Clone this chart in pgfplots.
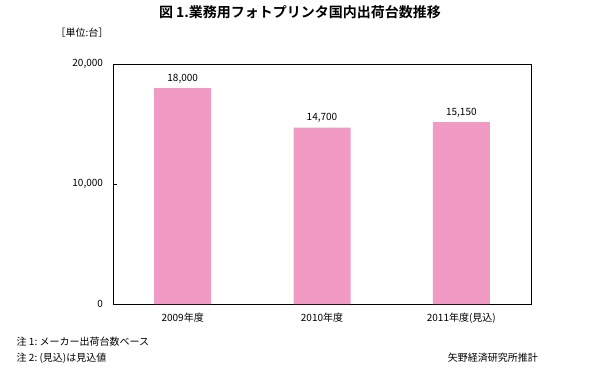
\documentclass[border=0pt]{standalone}
\usepackage{fontspec}
\setmainfont{Noto Sans CJK JP}
\newfontfamily\cjkbold{Noto Sans CJK JP}[BoldFont={Noto Sans CJK JP Bold}]
\usepackage{pgfplots}
\pgfplotsset{compat=1.18}
\definecolor{barpink}{HTML}{F19AC4}
\begin{document}
\begin{tikzpicture}
\useasboundingbox (0,0) rectangle (450pt,284.25pt);
\begin{axis}[
  at={(84.75pt,56.25pt)}, anchor=south west,
  scale only axis, width=313.5pt, height=180pt,
  xmin=-0.5, xmax=2.5, ymin=0, ymax=20000,
  xtick={0,1,2}, xticklabels={2009年度,2010年度,2011年度(見込)},
  ytick={0,10000,20000},
  major x tick style={draw=none},
  y tick style={black, line width=0.4pt}, major tick length=3pt,
  tick align=inside, ytick pos=left,
  axis line style={black, line width=0.6pt},
  /pgf/number format/assume math mode=true,
  /pgf/number format/1000 sep={,},
  scaled y ticks=false,
  tick label style={font=\fontsize{7.5}{9}\selectfont},
  yticklabel style={xshift=-4pt},
  xticklabel style={yshift=-3pt},
  nodes near coords,
  every node near coord/.append style={font=\fontsize{7.5}{9}\selectfont, /pgf/number format/1000 sep={,}},
]
\addplot[ybar, bar width=42.75pt, fill=barpink, draw=none] coordinates {(0,18000) (1,14700) (2,15150)};
\end{axis}
\node[font=\cjkbold\bfseries\fontsize{10.5}{12}\selectfont] at (225pt,275.25pt) {図 1.業務用フォトプリンタ国内出荷台数推移};
\node[font=\fontsize{7.5}{9}\selectfont] at (61.5pt,259.5pt) {［単位:台］};
\node[font=\fontsize{7.5}{9}\selectfont, anchor=west] at (9pt,27.75pt) {注 1:\ メーカー出荷台数ベース};
\node[font=\fontsize{7.5}{9}\selectfont, anchor=west] at (9pt,15.75pt) {注 2:\ (見込)は見込値};
\node[font=\fontsize{7.5}{9}\selectfont, anchor=east] at (407pt,15.75pt) {矢野経済研究所推計};
\end{tikzpicture}
\end{document}
